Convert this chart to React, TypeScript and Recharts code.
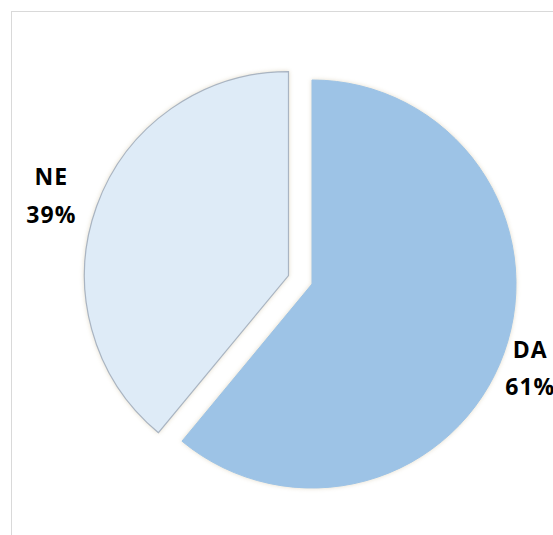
import React from 'react';
import { PieChart, Pie, Cell } from 'recharts';

const categories = ['DA', 'NE'];
const values = [61, 39];
const colors = ['#9dc3e6', '#deebf7'];
const strokes = ['#9dc3e6', '#a9b4c2'];
const explodedName = 'NE';

const data = categories.map((name, i) => ({ name, value: values[i] }));

const CX = 300;
const CY = 272;
const R = 204;
const EXPLODE = 25;
const START = 90;
const END = -270;

const total = values.reduce((a, b) => a + b, 0);
const explodedIdx = categories.indexOf(explodedName);
const before = values.slice(0, explodedIdx).reduce((a, b) => a + b, 0);
const midDeg = START - ((before + values[explodedIdx] / 2) / total) * 360;
const RAD = Math.PI / 180;
const ECX = CX + EXPLODE * Math.cos(midDeg * RAD);
const ECY = CY - EXPLODE * Math.sin(midDeg * RAD);

const labelGap: Record<string, number> = { DA: 28, NE: 48 };

const makeLabel = (visible: string) => (props: any) => {
  const { cx, cy, midAngle, outerRadius, percent, name } = props;
  if (name !== visible) return null;
  const r = outerRadius + labelGap[name];
  const x = cx + r * Math.cos(-midAngle * RAD);
  const y = cy + r * Math.sin(-midAngle * RAD);
  return (
    <text
      x={x}
      y={y}
      textAnchor="middle"
      fontFamily="'Open Sans', sans-serif"
      fontWeight={700}
      fontSize={23}
      letterSpacing={1}
      fill="#000"
    >
      <tspan x={x} y={y - 5}>{name}</tspan>
      <tspan x={x} y={y + 32.5}>{`${Math.round(percent * 100)}%`}</tspan>
    </text>
  );
};

const glow = 'drop-shadow(0 0 2px rgba(215,205,180,0.7))';

export default function App() {
  return (
    <div style={{ position: 'fixed', left: 0, top: 0, width: 553, height: 535, overflow: 'hidden', background: '#fff' }}>
      <style>{'html,body{margin:0;overflow:hidden;}'}</style>
      <div
        style={{
          position: 'absolute',
          left: 11,
          top: 11,
          width: 600,
          height: 600,
          border: '1px solid #d9d9d9',
          background: '#fff',
        }}
      >
        <PieChart width={600} height={600} margin={{ top: 0, right: 0, bottom: 0, left: 0 }}>
          <Pie
            data={data}
            dataKey="value"
            nameKey="name"
            cx={CX}
            cy={CY}
            outerRadius={R}
            startAngle={START}
            endAngle={END}
            label={makeLabel('DA')}
            labelLine={false}
            isAnimationActive={false}
          >
            {data.map((d, i) => (
              <Cell
                key={d.name}
                fill={d.name === explodedName ? 'none' : colors[i]}
                stroke={d.name === explodedName ? 'none' : strokes[i]}
                strokeWidth={1}
                style={{ filter: d.name === explodedName ? 'none' : glow }}
              />
            ))}
          </Pie>
          <Pie
            data={data}
            dataKey="value"
            nameKey="name"
            cx={ECX}
            cy={ECY}
            outerRadius={R}
            startAngle={START}
            endAngle={END}
            label={makeLabel(explodedName)}
            labelLine={false}
            isAnimationActive={false}
          >
            {data.map((d, i) => (
              <Cell
                key={d.name}
                fill={d.name === explodedName ? colors[i] : 'none'}
                stroke={d.name === explodedName ? strokes[i] : 'none'}
                strokeWidth={1.2}
                style={{ filter: d.name === explodedName ? glow : 'none' }}
              />
            ))}
          </Pie>
        </PieChart>
      </div>
    </div>
  );
}
